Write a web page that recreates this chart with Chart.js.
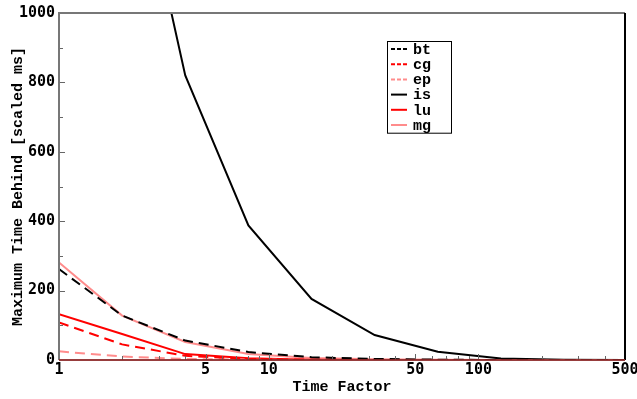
<!DOCTYPE html>
<html>
<head>
<meta charset="utf-8">
<script src="https://cdn.jsdelivr.net/npm/chart.js@4/dist/chart.umd.min.js"></script>
<style>
  body { margin: 0; background: #fff; }
  #wrap { width: 637px; height: 399px; position: relative; }
</style>
</head>
<body>
<div id="wrap"><canvas id="timeChart"></canvas></div>
<script>
// time factors the runs were made at
const timeFactors = [1, 2, 4, 8, 16, 32, 64, 128, 256, 512];

// maximum time behind per benchmark (scaled ms)
const bt = [262, 128, 56, 23, 8, 3, 1, 0, 0, 0];
const cg = [108, 45, 12, 3, 1, 0, 0, 0, 0, 0];
const ep = [25, 10, 3, 1, 0, 0, 0, 0, 0, 0];
const is = [3300, 1640, 820, 388, 176, 72, 24, 4, 1, 0];
const lu = [132, 75, 17, 5, 1, 0, 0, 0, 0, 0];
const mg = [281, 128, 52, 17, 6, 2, 1, 0, 0, 0];

const xTickLabels = [1, 5, 10, 50, 100, 500];
const xMinorTicks = [2, 3, 4, 6, 7, 8, 9, 20, 30, 40, 60, 70, 80, 90, 200, 300, 400];
const yTicks = [0, 200, 400, 600, 800, 1000];

function points(values) {
  return timeFactors.map((x, i) => ({ x: x, y: values[i] }));
}

function makeSet(label, values, color, dash) {
  return {
    label,
    data: points(values),
    borderColor: color,
    borderWidth: 2,
    borderDash: dash || [],
    pointRadius: 0,
    fill: false,
    tension: 0
  };
}

// ticks pointing inwards plus the frame round the plot
const frameTicks = {
  id: 'frameTicks',
  afterDatasetsDraw(chart) {
    const ctx = chart.ctx;
    const a = chart.chartArea;
    const xs = chart.scales.x;
    const ys = chart.scales.y;
    ctx.save();
    ctx.lineWidth = 1;
    ctx.strokeStyle = '#666';
    ctx.beginPath();
    for (let v = 100; v < 1000; v += 100) {
      const y = Math.round(ys.getPixelForValue(v)) + 0.5;
      const len = v % 200 === 0 ? 6 : 4;
      ctx.moveTo(a.left, y);
      ctx.lineTo(a.left + len, y);
    }
    xTickLabels.concat(xMinorTicks).forEach(v => {
      const x = Math.round(xs.getPixelForValue(v)) + 0.5;
      const len = xTickLabels.includes(v) ? 6 : 4;
      ctx.moveTo(x, a.bottom);
      ctx.lineTo(x, a.bottom - len);
    });
    ctx.stroke();

    ctx.lineWidth = 2;
    ctx.strokeStyle = '#777';
    ctx.beginPath();
    ctx.moveTo(a.left, a.bottom);
    ctx.lineTo(a.left, a.top);
    ctx.lineTo(a.right, a.top);
    ctx.stroke();
    ctx.strokeStyle = '#000';
    ctx.beginPath();
    ctx.moveTo(a.right, a.top);
    ctx.lineTo(a.right, a.bottom);
    ctx.stroke();
    ctx.strokeStyle = 'rgba(140,40,40,0.9)';
    ctx.beginPath();
    ctx.moveTo(a.left, a.bottom);
    ctx.lineTo(a.right, a.bottom);
    ctx.stroke();
    ctx.restore();
  }
};

// boxed legend inside the plot
const boxLegend = {
  id: 'boxLegend',
  afterDraw(chart) {
    const ctx = chart.ctx;
    const sets = chart.data.datasets;
    const left = 387, top = 41, w = 64, rowH = 15.2;
    ctx.save();
    ctx.fillStyle = '#fff';
    ctx.fillRect(left, top, w, rowH * sets.length + 0.5);
    ctx.strokeStyle = '#000';
    ctx.lineWidth = 1;
    ctx.strokeRect(left + 0.5, top + 0.5, w, rowH * sets.length + 0.5);
    ctx.font = "bold 15px 'Liberation Mono', 'Courier New', monospace";
    ctx.textBaseline = 'middle';
    sets.forEach((ds, i) => {
      const y = top + 8 + i * rowH;
      ctx.strokeStyle = ds.borderColor;
      ctx.lineWidth = 2;
      ctx.setLineDash(ds.borderDash.length ? [4, 2] : []);
      ctx.beginPath();
      ctx.moveTo(left + 4, y);
      ctx.lineTo(left + 20, y);
      ctx.stroke();
      ctx.setLineDash([]);
      ctx.fillStyle = '#000';
      ctx.fillText(ds.label, left + 26, y + 1);
    });
    ctx.restore();
  }
};

const ctx = document.getElementById('timeChart').getContext('2d');
new Chart(ctx, {
  type: 'line',
  data: {
    datasets: [
      makeSet('bt', bt, '#000000', [10, 6]),
      makeSet('cg', cg, '#ff0000', [10, 6]),
      makeSet('ep', ep, '#ff8c8c', [10, 6]),
      makeSet('is', is, '#000000'),
      makeSet('lu', lu, '#ff0000'),
      makeSet('mg', mg, '#ff8c8c')
    ]
  },
  options: {
    animation: false,
    responsive: true,
    maintainAspectRatio: false,
    layout: { padding: { top: 10, right: 12, left: 0, bottom: 0 } },
    scales: {
      x: {
        type: 'logarithmic',
        min: 1,
        max: 500,
        grid: { display: false, drawTicks: false },
        border: { display: false },
        afterBuildTicks: scale => {
          scale.ticks = xTickLabels.map(v => ({ value: v }));
        },
        afterFit: scale => {
          scale.height = 39;
          scale.paddingLeft = 0;
          scale.paddingRight = 0;
        },
        ticks: {
          autoSkip: false,
          maxRotation: 0,
          padding: 1,
          color: '#000',
          font: { family: "'DejaVu Sans Mono', monospace", size: 15, weight: 'bold' },
          callback: v => String(v)
        },
        title: {
          display: true,
          text: 'Time Factor',
          color: '#000',
          font: { family: "'Liberation Mono', 'Courier New', monospace", size: 15, weight: 'bold' },
          padding: { top: 0, bottom: 3 }
        }
      },
      y: {
        min: 0,
        max: 1000,
        grid: { display: false, drawTicks: false },
        border: { display: false },
        afterBuildTicks: scale => {
          scale.ticks = yTicks.map(v => ({ value: v }));
        },
        afterFit: scale => { scale.width = 59; },
        ticks: {
          padding: 4,
          color: '#000',
          font: { family: "'DejaVu Sans Mono', monospace", size: 15, weight: 'bold' },
          callback: v => String(v)
        },
        title: {
          display: true,
          text: 'Maximum Time Behind [scaled ms]',
          color: '#000',
          font: { family: "'Liberation Mono', 'Courier New', monospace", size: 15, weight: 'bold' },
          padding: { top: 9, bottom: 0 }
        }
      }
    },
    plugins: {
      legend: { display: false },
      tooltip: { enabled: false }
    }
  },
  plugins: [frameTicks, boxLegend]
});
</script>
</body>
</html>
